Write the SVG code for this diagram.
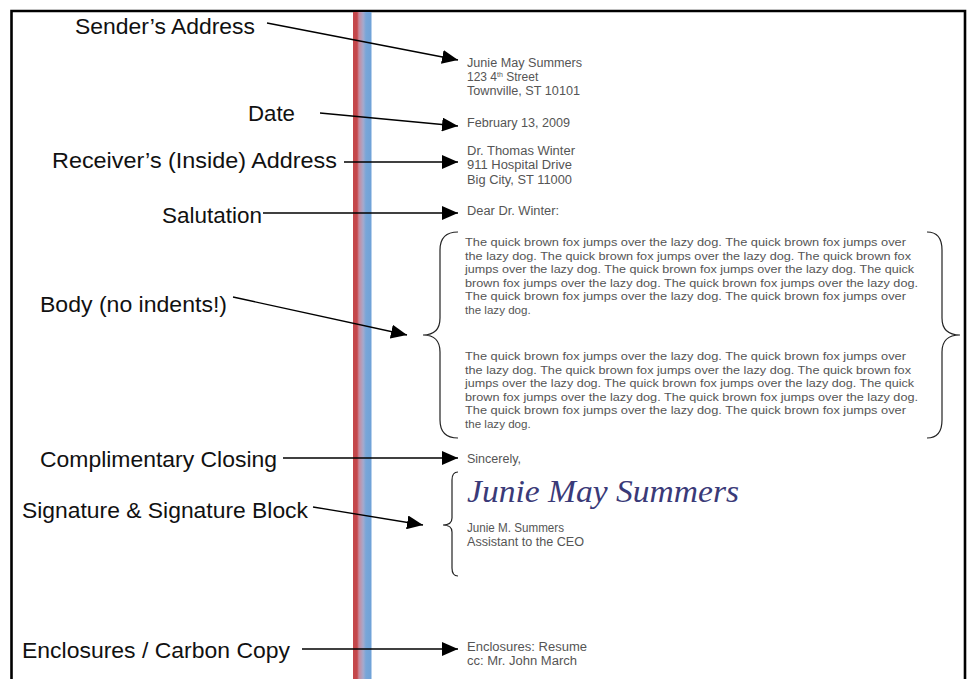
<svg xmlns="http://www.w3.org/2000/svg" width="970" height="679" viewBox="0 0 970 679">
<defs>
<marker id="ah" markerUnits="userSpaceOnUse" markerWidth="17" markerHeight="14" refX="16" refY="7" orient="auto">
<path d="M0,0 L16,7 L0,14 Z" fill="#000"/>
</marker>
<linearGradient id="stripe" x1="0" y1="0" x2="1" y2="0">
<stop offset="0" stop-color="#c4474b"/>
<stop offset="0.22" stop-color="#c4474b"/>
<stop offset="0.32" stop-color="#c98a9c"/>
<stop offset="0.55" stop-color="#a6a9cc"/>
<stop offset="0.7" stop-color="#78a6d8"/>
<stop offset="1" stop-color="#6fa2d8"/>
</linearGradient>
</defs>
<style>
.lbl{font-family:"Liberation Sans",Arial,sans-serif;font-size:21.5px;fill:#111}
.ltr{font-family:"Liberation Sans",Arial,sans-serif;font-size:12px;fill:#555}
.body{font-family:"Liberation Sans",Arial,sans-serif;font-size:11.6px;fill:#555}
.sig{font-family:"Liberation Serif","DejaVu Serif",serif;font-style:italic;font-size:31px;fill:#3a3a78}
.conn{stroke:#000;stroke-width:1.3;fill:none}
.brace{stroke:#222;stroke-width:1.2;fill:none}
</style>
<rect width="970" height="679" fill="#fff"/>
<path d="M11.5,679 V11 H965 V679" fill="none" stroke="#000" stroke-width="2.6"/>
<rect x="353" y="12" width="18.5" height="667" fill="url(#stripe)"/>

<g id="connectors">
<line class="conn" x1="267" y1="23" x2="458" y2="60" marker-end="url(#ah)"/>
<line class="conn" x1="320" y1="113" x2="458" y2="126" marker-end="url(#ah)"/>
<line class="conn" x1="344" y1="162" x2="458" y2="162" marker-end="url(#ah)"/>
<line class="conn" x1="263" y1="213" x2="458" y2="213" marker-end="url(#ah)"/>
<line class="conn" x1="233" y1="297" x2="407" y2="335" marker-end="url(#ah)"/>
<line class="conn" x1="283" y1="458" x2="458" y2="458" marker-end="url(#ah)"/>
<line class="conn" x1="313" y1="507" x2="423" y2="525" marker-end="url(#ah)"/>
<line class="conn" x1="302" y1="649" x2="458" y2="649" marker-end="url(#ah)"/>
</g>

<g id="label-sender"><text class="lbl" x="75" y="34" textLength="180" lengthAdjust="spacingAndGlyphs">Sender’s Address</text></g>
<g id="label-date"><text class="lbl" x="248" y="121" textLength="47" lengthAdjust="spacingAndGlyphs">Date</text></g>
<g id="label-receiver"><text class="lbl" x="52" y="168" textLength="285" lengthAdjust="spacingAndGlyphs">Receiver’s (Inside) Address</text></g>
<g id="label-salutation"><text class="lbl" x="162" y="223" textLength="100" lengthAdjust="spacingAndGlyphs">Salutation</text></g>
<g id="label-body"><text class="lbl" x="40" y="312" textLength="187" lengthAdjust="spacingAndGlyphs">Body (no indents!)</text></g>
<g id="label-closing"><text class="lbl" x="40" y="467" textLength="237" lengthAdjust="spacingAndGlyphs">Complimentary Closing</text></g>
<g id="label-signature"><text class="lbl" x="22" y="518" textLength="286" lengthAdjust="spacingAndGlyphs">Signature &amp; Signature Block</text></g>
<g id="label-enclosures"><text class="lbl" x="22" y="658" textLength="268" lengthAdjust="spacingAndGlyphs">Enclosures / Carbon Copy</text></g>

<g id="letter-sender">
<text class="ltr" x="467" y="67" textLength="115" lengthAdjust="spacingAndGlyphs">Junie May Summers</text>
<text class="ltr" x="467" y="81">123 4<tspan font-size="7" dy="-4">th</tspan><tspan dy="4"> Street</tspan></text>
<text class="ltr" x="467" y="95" textLength="113" lengthAdjust="spacingAndGlyphs">Townville, ST 10101</text>
</g>
<g id="letter-date"><text class="ltr" x="467" y="127" textLength="103" lengthAdjust="spacingAndGlyphs">February 13, 2009</text></g>
<g id="letter-receiver">
<text class="ltr" x="467" y="155" textLength="108" lengthAdjust="spacingAndGlyphs">Dr. Thomas Winter</text>
<text class="ltr" x="467" y="169" textLength="105" lengthAdjust="spacingAndGlyphs">911 Hospital Drive</text>
<text class="ltr" x="467" y="184" textLength="105" lengthAdjust="spacingAndGlyphs">Big City, ST 11000</text>
</g>
<g id="letter-salutation"><text class="ltr" x="467" y="215" textLength="92" lengthAdjust="spacingAndGlyphs">Dear Dr. Winter:</text></g>

<g id="letter-body">
<path class="brace" d="M458,232 Q440,232 440,250 L440,318 Q440,335 423,335 Q440,335 440,352 L440,420 Q440,438 458,438"/>
<path class="brace" d="M927,232 Q942,232 942,250 L942,318 Q942,335 960,335 Q942,335 942,352 L942,420 Q942,438 927,438"/>
<text class="body" x="465" y="246" textLength="441" lengthAdjust="spacingAndGlyphs">The quick brown fox jumps over the lazy dog. The quick brown fox jumps over</text>
<text class="body" x="465" y="259.5" textLength="446" lengthAdjust="spacingAndGlyphs">the lazy dog. The quick brown fox jumps over the lazy dog. The quick brown fox</text>
<text class="body" x="465" y="273" textLength="449" lengthAdjust="spacingAndGlyphs">jumps over the lazy dog. The quick brown fox jumps over the lazy dog. The quick</text>
<text class="body" x="465" y="286.5" textLength="453" lengthAdjust="spacingAndGlyphs">brown fox jumps over the lazy dog. The quick brown fox jumps over the lazy dog.</text>
<text class="body" x="465" y="300" textLength="441" lengthAdjust="spacingAndGlyphs">The quick brown fox jumps over the lazy dog. The quick brown fox jumps over</text>
<text class="body" x="465" y="313.5">the lazy dog.</text>
<text class="body" x="465" y="360" textLength="441" lengthAdjust="spacingAndGlyphs">The quick brown fox jumps over the lazy dog. The quick brown fox jumps over</text>
<text class="body" x="465" y="373.5" textLength="446" lengthAdjust="spacingAndGlyphs">the lazy dog. The quick brown fox jumps over the lazy dog. The quick brown fox</text>
<text class="body" x="465" y="387" textLength="449" lengthAdjust="spacingAndGlyphs">jumps over the lazy dog. The quick brown fox jumps over the lazy dog. The quick</text>
<text class="body" x="465" y="400.5" textLength="453" lengthAdjust="spacingAndGlyphs">brown fox jumps over the lazy dog. The quick brown fox jumps over the lazy dog.</text>
<text class="body" x="465" y="414" textLength="441" lengthAdjust="spacingAndGlyphs">The quick brown fox jumps over the lazy dog. The quick brown fox jumps over</text>
<text class="body" x="465" y="427.5">the lazy dog.</text>
</g>

<g id="letter-closing"><text class="ltr" x="467" y="463" textLength="54" lengthAdjust="spacingAndGlyphs">Sincerely,</text></g>

<g id="letter-signature">
<path class="brace" d="M458,472 Q452,472 452,480 L452,518 Q452,525 443,525 Q452,525 452,532 L452,568 Q452,576 458,576"/>
<text class="sig" x="467" y="502" textLength="272" lengthAdjust="spacingAndGlyphs">Junie May Summers</text>
<text class="ltr" x="467" y="532" textLength="97" lengthAdjust="spacingAndGlyphs">Junie M. Summers</text>
<text class="ltr" x="467" y="546" textLength="117" lengthAdjust="spacingAndGlyphs">Assistant to the CEO</text>
</g>

<g id="letter-enclosures">
<text class="ltr" x="467" y="651" textLength="120" lengthAdjust="spacingAndGlyphs">Enclosures: Resume</text>
<text class="ltr" x="467" y="665" textLength="110" lengthAdjust="spacingAndGlyphs">cc: Mr. John March</text>
</g>
</svg>
